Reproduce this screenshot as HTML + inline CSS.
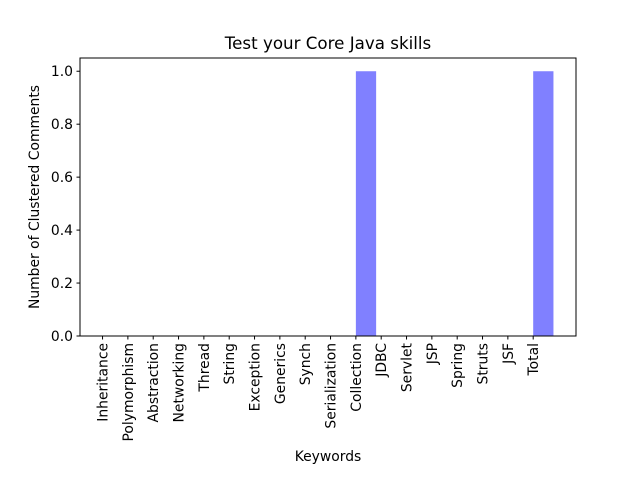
<!DOCTYPE html>
<html><head><meta charset="utf-8"><style>
body{margin:0;background:#fff;font-family:"DejaVu Sans","Liberation Sans",sans-serif;}
svg text{font-family:"DejaVu Sans","Liberation Sans",sans-serif;font-size:13.9px;fill:#000}
</style></head><body>
<svg id="c" width="640" height="480"></svg>
<script>
const categories=["Inheritance","Polymorphism","Abstraction","Networking","Thread","String","Exception","Generics","Synch","Serialization","Collection","JDBC","Servlet","JSP","Spring","Struts","JSF","Total"];
const values=[0,0,0,0,0,0,0,0,0,0,1,0,0,0,0,0,0,1];
const yTicks=[0,0.2,0.4,0.6,0.8,1.0];
const yTickLabels=["0.0","0.2","0.4","0.6","0.8","1.0"];
const L=80,R=576,T=58,B=336,barW=0.8;
const xmin=-0.89,xmax=categories.length-1+barW+0.89;
const x=v=>L+(v-xmin)/(xmax-xmin)*(R-L);
const y=v=>B-v/1.05*(B-T);
const s=document.getElementById('c');const NS="http://www.w3.org/2000/svg";
function mk(t,a,txt){const e=document.createElementNS(NS,t);for(const k in a)e.setAttribute(k,a[k]);if(txt!==undefined)e.textContent=txt;s.appendChild(e);return e;}
values.forEach((v,i)=>{const r=mk('rect',{x:x(i),y:y(v),width:x(i+barW)-x(i),height:B-y(v),fill:'#8080ff'});

});
const f=mk('rect',{x:L,y:T,width:R-L,height:B-T,fill:'none',stroke:'#000','stroke-width':1});


categories.forEach((c,i)=>{const xx=x(i);mk('line',{x1:xx,x2:xx,y1:B,y2:B+3.5,stroke:'#000'});
const t=mk('text',{transform:`translate(${xx+5},${B+7}) rotate(-90)`,'text-anchor':'end'},c);

});
yTicks.forEach((v,i)=>{const yy=y(v);mk('line',{x1:L-3.5,x2:L,y1:yy,y2:yy,stroke:'#000'});
const t=mk('text',{x:L-7,y:yy+5,'text-anchor':'end'},yTickLabels[i]);

});
const ti=mk('text',{x:(L+R)/2,y:49,'text-anchor':'middle',style:'font-size:16.7px'},'Test your Core Java skills');


const xl=mk('text',{x:(L+R)/2,y:461,'text-anchor':'middle'},'Keywords');


const yl=mk('text',{transform:`translate(39,${(T+B)/2}) rotate(-90)`,'text-anchor':'middle'},'Number of Clustered Comments');


</script></body></html>
